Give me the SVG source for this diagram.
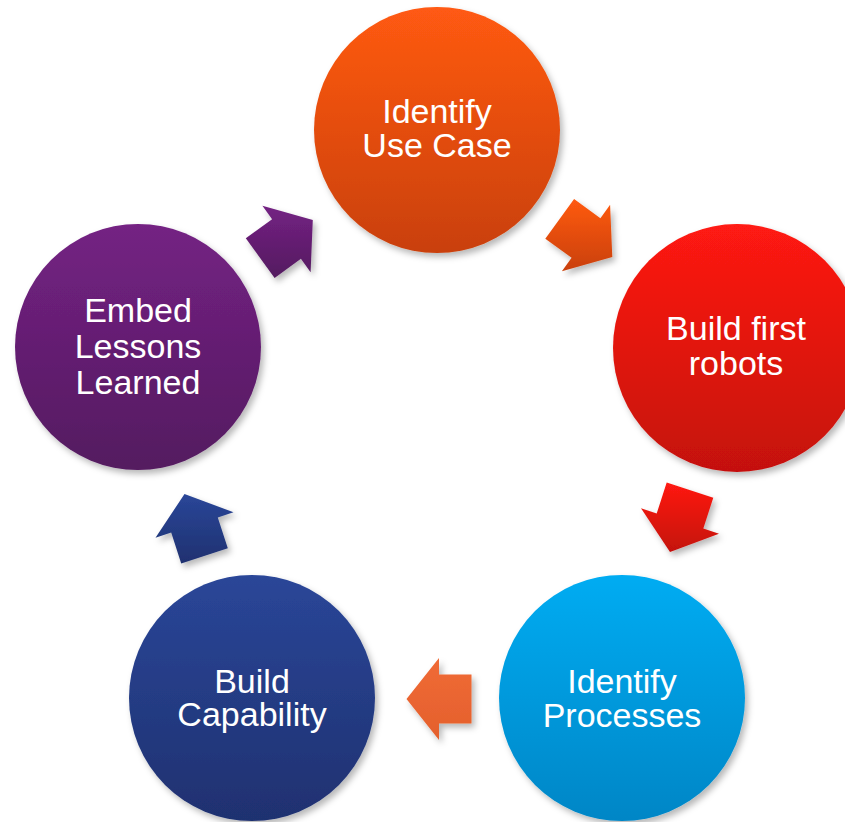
<svg xmlns="http://www.w3.org/2000/svg" width="845" height="822" viewBox="0 0 845 822">
<defs>
<filter id="sh" x="-20%" y="-20%" width="140%" height="140%">
<feDropShadow dx="3" dy="4" stdDeviation="3" flood-color="#000" flood-opacity="0.28"/>
</filter>
<linearGradient id="gOrange" x1="0" y1="0" x2="0" y2="1">
<stop offset="0" stop-color="#FF5A12"/><stop offset="1" stop-color="#C9400B"/>
</linearGradient>
<linearGradient id="gRed" x1="0" y1="0" x2="0" y2="1">
<stop offset="0" stop-color="#FF1A12"/><stop offset="1" stop-color="#C4110C"/>
</linearGradient>
<linearGradient id="gBlue" x1="0" y1="0" x2="0" y2="1">
<stop offset="0" stop-color="#00ACF2"/><stop offset="1" stop-color="#0086C6"/>
</linearGradient>
<linearGradient id="gNavy" x1="0" y1="0" x2="0" y2="1">
<stop offset="0" stop-color="#2A4698"/><stop offset="1" stop-color="#1F3170"/>
</linearGradient>
<linearGradient id="gPurple" x1="0" y1="0" x2="0" y2="1">
<stop offset="0" stop-color="#742283"/><stop offset="1" stop-color="#541A60"/>
</linearGradient>
<linearGradient id="gArrowOrange" x1="0" y1="0" x2="0" y2="1">
<stop offset="0" stop-color="#F06A36"/><stop offset="1" stop-color="#E4602C"/>
</linearGradient>
</defs>
<style>
.lbl{font-family:"Liberation Sans",Arial,sans-serif;font-size:34px;fill:#FFFFFF;text-anchor:middle}
.node circle{filter:url(#sh)}
.arrow{filter:url(#sh)}
</style>
<rect width="845" height="822" fill="#FFFFFF"/>
<g id="connectors">
<polygon class="arrow" fill="url(#gOrange)" points="574.1,199.1 600.4,218.2 610.1,204.8 612.3,257.1 561.9,271.2 571.6,257.8 545.3,238.7"/>
<polygon class="arrow" fill="url(#gRed)" points="713.3,497.7 703.3,528.6 719.0,533.7 670.0,551.9 641.0,508.3 656.7,513.4 666.7,482.5"/>
<polygon class="arrow" fill="url(#gArrowOrange)" points="471.5,723.5 439,723.5 439,740 406.5,699 439,658 439,674.5 471.5,674.5"/>
<polygon class="arrow" fill="url(#gNavy)" points="181.2,563.5 171.2,532.6 155.5,537.7 184.5,494.1 233.5,512.3 217.8,517.4 227.8,548.3"/>
<polygon class="arrow" fill="url(#gPurple)" points="245.8,238.3 272.1,219.2 262.4,205.8 312.8,219.9 310.6,272.2 300.9,258.8 274.6,277.9"/>
</g>
<g id="node-identify-use-case" class="node">
<circle cx="437" cy="130" r="123" fill="url(#gOrange)"/>
<text class="lbl" x="437" y="123">Identify</text>
<text class="lbl" x="437" y="157">Use Case</text>
</g>
<g id="node-build-first-robots" class="node">
<circle cx="737" cy="348" r="124" fill="url(#gRed)"/>
<text class="lbl" x="736" y="340">Build first</text>
<text class="lbl" x="736" y="375">robots</text>
</g>
<g id="node-identify-processes" class="node">
<circle cx="622" cy="698" r="123" fill="url(#gBlue)"/>
<text class="lbl" x="622" y="693">Identify</text>
<text class="lbl" x="622" y="727">Processes</text>
</g>
<g id="node-build-capability" class="node">
<circle cx="252" cy="698" r="123" fill="url(#gNavy)"/>
<text class="lbl" x="252" y="693">Build</text>
<text class="lbl" x="252" y="726">Capability</text>
</g>
<g id="node-embed-lessons-learned" class="node">
<circle cx="138" cy="347" r="123" fill="url(#gPurple)"/>
<text class="lbl" x="138" y="322">Embed</text>
<text class="lbl" x="138" y="358">Lessons</text>
<text class="lbl" x="138" y="394">Learned</text>
</g>
</svg>
